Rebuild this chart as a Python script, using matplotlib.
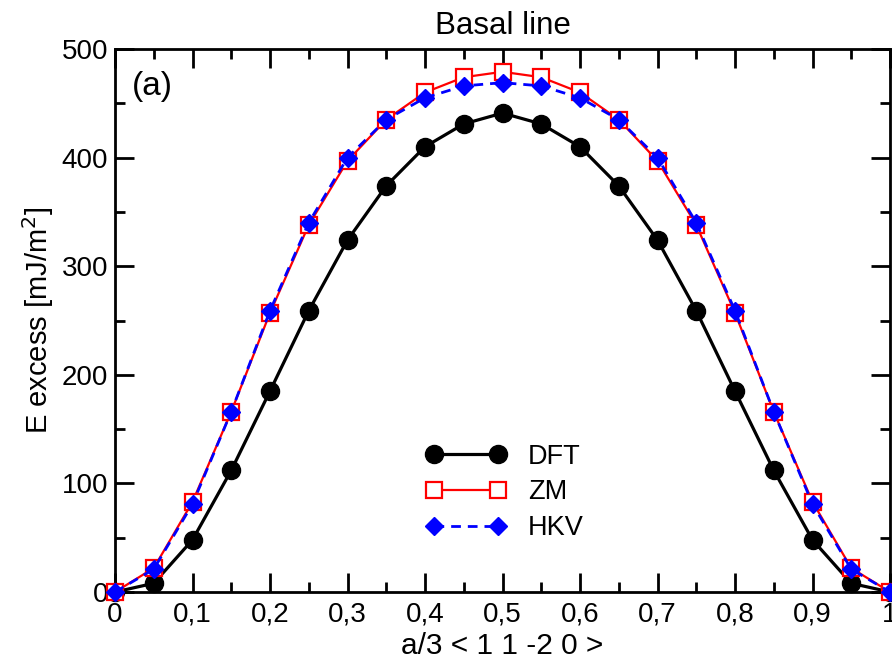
import matplotlib
matplotlib.use("Agg")
import matplotlib.pyplot as plt
from matplotlib.ticker import MultipleLocator, FuncFormatter

plt.rcParams['font.family'] = ['Liberation Sans', 'DejaVu Sans']

# displacement along a/3 <11-20>
x = [0, 0.05, 0.1, 0.15, 0.2, 0.25, 0.3, 0.35, 0.4, 0.45, 0.5,
     0.55, 0.6, 0.65, 0.7, 0.75, 0.8, 0.85, 0.9, 0.95, 1.0]

# energy excess in mJ/m^2
dft = [0, 8, 48, 112, 185, 259, 324, 374, 410, 431, 441,
       431, 410, 374, 324, 259, 185, 112, 48, 8, 0]
zm = [0, 22, 83, 166, 257, 338, 397, 435, 460, 474, 479,
      474, 460, 435, 397, 338, 257, 166, 83, 22, 0]
hkv = [0, 21, 81, 166, 259, 340, 400, 435, 455, 466, 469,
       466, 455, 435, 400, 340, 259, 166, 81, 21, 0]

fig = plt.figure(figsize=(8.92, 6.59), dpi=100)
ax = fig.add_axes([115 / 892, 1 - 592 / 659, 775 / 892, 543 / 659])

ax.plot(x, dft, color="black", lw=2.3, marker="o", ms=13, label="DFT", clip_on=False, zorder=3)
ax.plot(x, zm, color="red", lw=1.6, marker="s", ms=11, mfc="white", mec="red", mew=1.6,
        label="ZM", clip_on=False, zorder=4)
ax.plot(x, hkv, color="blue", lw=2, ls=(0, (3.5, 2.5)), marker="D", ms=9.5, mfc="blue", mec="blue",
        label="HKV", clip_on=False, zorder=5)

ax.set_xlim(0, 1)
ax.set_ylim(0, 500)
ax.xaxis.set_major_locator(MultipleLocator(0.1))
ax.xaxis.set_minor_locator(MultipleLocator(0.05))
ax.yaxis.set_major_locator(MultipleLocator(100))
ax.yaxis.set_minor_locator(MultipleLocator(50))


def comma(v, pos):
    s = f"{v:.1f}".rstrip("0").rstrip(".")
    return s.replace(".", ",")


ax.xaxis.set_major_formatter(FuncFormatter(comma))
ax.tick_params(which="both", direction="in", top=True, right=True, width=2, labelsize=20)
ax.tick_params(which="major", length=14)
ax.tick_params(which="minor", length=7)
ax.tick_params(axis="x", pad=7)
ax.tick_params(axis="y", pad=5)
for sp in ax.spines.values():
    sp.set_linewidth(2)

ax.set_xlabel("a/3 < 1 1 -2 0 >", fontsize=21.5, labelpad=3)
ax.set_ylabel("E excess [mJ/m$^2$]", fontsize=21, labelpad=4)
ax.set_title("Basal line", fontsize=22.5, pad=11)
ax.text(0.022, 0.96, "(a)", transform=ax.transAxes, fontsize=24, va="top", ha="left")

ax.legend(loc="upper left", bbox_to_anchor=(0.37, 0.318), frameon=False, fontsize=19.5,
          numpoints=2, handlelength=2.95, handletextpad=0.8, labelspacing=0.36)

fig.savefig("out.png", dpi=100)
